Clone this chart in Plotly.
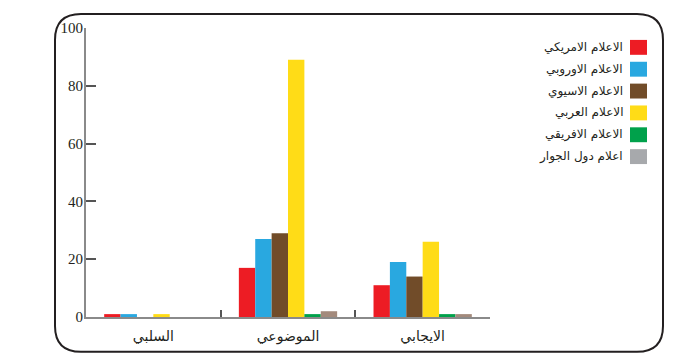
import plotly.graph_objects as go

categories = ["السلبي", "الموضوعي", "الايجابي"]
series_names = ["الاعلام الامريكي", "الاعلام الاوروبي", "الاعلام الاسيوي",
                "الاعلام العربي", "الاعلام الافريقي", "اعلام دول الجوار"]
american = [1, 17, 11]
european = [1, 27, 19]
asian = [0, 29, 14]
arab = [1, 89, 26]
african = [0, 1, 1]
neighbours = [0, 2, 1]
y_ticks = [0, 20, 40, 60, 80, 100]

series_values = [american, european, asian, arab, african, neighbours]
bar_colors = ["#ED1C24", "#29A8E0", "#714C29", "#FFDC17", "#00A14B", "#A38A7C"]
legend_colors = ["#ED1C24", "#29A8E0", "#714C29", "#FFDC17", "#00A14B", "#A7A9AC"]

# page body has an 8px margin; work in screen pixels and offset
OFF = 8
SW, SH = 697, 364
W, H = SW - OFF, SH - OFF
# plot area in screen pixels
SL, SR, ST, SB = 86, 490, 26, 317
L, T = SL - OFF, ST - OFF
R, B = SW - SR, SH - SB
PW, PH = SR - SL, SB - ST

def px(x):
    return (x - SL) / PW

def py(y):
    return (SB - y) / PH

fig = go.Figure()
for name, vals, col in zip(series_names, series_values, bar_colors):
    fig.add_trace(go.Bar(x=categories, y=vals, name=name, marker_color=col,
                         marker_line_width=0, showlegend=False))

shapes = []
x0, x1, y0, y1, r = 55, 663, 12, 352, 26
path = (f"M {px(x0 + r)},{py(y0)} L {px(x1 - r)},{py(y0)} "
        f"Q {px(x1)},{py(y0)} {px(x1)},{py(y0 + r)} "
        f"L {px(x1)},{py(y1 - r)} Q {px(x1)},{py(y1)} {px(x1 - r)},{py(y1)} "
        f"L {px(x0 + r)},{py(y1)} Q {px(x0)},{py(y1)} {px(x0)},{py(y1 - r)} "
        f"L {px(x0)},{py(y0 + r)} Q {px(x0)},{py(y0)} {px(x0 + r)},{py(y0)} Z")
shapes.append(dict(type="path", path=path, xref="paper", yref="paper",
                   line=dict(color="#231F20", width=2), layer="below"))

annotations = []
for i, (name, col) in enumerate(zip(series_names, legend_colors)):
    cy = 45.5 + i * 22
    shapes.append(dict(type="rect", xref="paper", yref="paper",
                       x0=px(630), x1=px(647), y0=py(cy - 7.5), y1=py(cy + 7.5),
                       fillcolor=col, line=dict(width=0)))
    annotations.append(dict(text=name, xref="paper", yref="paper",
                            x=px(625), y=py(cy), xanchor="right", yanchor="middle",
                            showarrow=False,
                            font=dict(family="DejaVu Sans", size=12, color="#231F20")))

fig.update_layout(
    width=W, height=H,
    margin=dict(l=L, r=R, t=T, b=B, pad=0),
    paper_bgcolor="white", plot_bgcolor="white",
    barmode="group", bargap=0.27, bargroupgap=0,
    shapes=shapes, annotations=annotations,
    xaxis=dict(showline=True, linecolor="#8a8a8a", linewidth=2,
               ticks="inside", tickson="boundaries", ticklen=7, tickwidth=2,
               tickcolor="#555555", showgrid=False, ticklabelstandoff=5,
               tickfont=dict(family="DejaVu Sans", size=14, color="#231F20")),
    yaxis=dict(range=[0, 100], tickvals=y_ticks, showline=True,
               linecolor="#8a8a8a", linewidth=2, ticks="inside", ticklen=10,
               tickwidth=2, tickcolor="#555555", showgrid=False, zeroline=False,
               ticklabelstandoff=-2,
               tickfont=dict(family="Liberation Serif", size=15, color="#231F20")),
)

fig.write_html("out.html")
